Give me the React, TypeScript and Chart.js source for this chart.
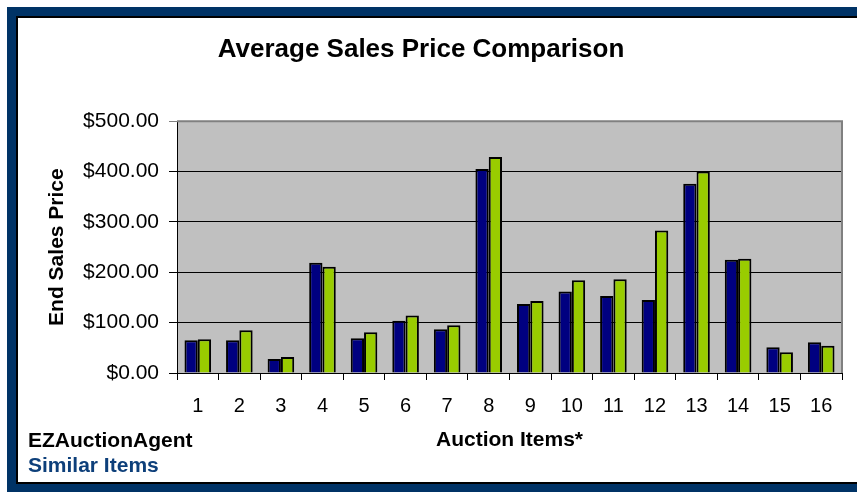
import React, { useEffect, useRef } from "react";
import { Chart, registerables } from "chart.js";

Chart.register(...registerables);

const categories = ["1", "2", "3", "4", "5", "6", "7", "8", "9", "10", "11", "12", "13", "14", "15", "16"];
const ezAuctionAgent = [65, 65, 28, 219, 69, 104, 87, 405, 137, 162, 153, 145, 376, 225, 51, 61];
const similarItems = [67, 85, 32, 211, 81, 114, 95, 429, 143, 184, 186, 283, 400, 227, 41, 54];
const seriesNames = ["EZAuctionAgent", "Similar Items"];
const titleText = "Average Sales Price Comparison";
const yTitle = "End Sales Price";
const xTitle = "Auction Items*";

const FONT = "'Liberation Sans', Arial, Helvetica, sans-serif";

export default function App() {
  const ref = useRef<HTMLCanvasElement | null>(null);

  useEffect(() => {
    document.body.style.overflow = "hidden";
    const canvas = ref.current;
    if (!canvas) return;

    const bgPlugin = {
      id: "plotBg",
      beforeDraw(chart: any) {
        const { ctx, chartArea: a } = chart;
        ctx.save();
        ctx.fillStyle = "#C0C0C0";
        ctx.fillRect(a.left, a.top, a.right - a.left, a.bottom - a.top);
        ctx.restore();
      },
      afterDatasetsDraw(chart: any) {
        const { ctx, chartArea: a } = chart;
        ctx.save();
        ctx.strokeStyle = "#808080";
        ctx.lineWidth = 2;
        ctx.beginPath();
        ctx.moveTo(a.left, a.top);
        ctx.lineTo(a.right, a.top);
        ctx.lineTo(a.right, a.bottom);
        ctx.stroke();
        ctx.restore();
      },
      afterDraw(chart: any) {
        const { ctx } = chart;
        ctx.save();
        ctx.font = `bold 21px ${FONT}`;
        ctx.textAlign = "left";
        ctx.textBaseline = "middle";
        ctx.fillStyle = "#000000";
        ctx.fillText(seriesNames[0], 28, 441);
        ctx.fillStyle = "#0D3F7A";
        ctx.fillText(seriesNames[1], 28, 466);
        ctx.restore();
      },
    };

    const chart = new Chart(canvas, {
      type: "bar",
      data: {
        labels: categories,
        datasets: [
          {
            label: seriesNames[0],
            data: ezAuctionAgent,
            backgroundColor: "#000080",
            borderColor: "#000000",
            borderWidth: 2,
            categoryPercentage: 0.64,
            barPercentage: 1.0,
          },
          {
            label: seriesNames[1],
            data: similarItems,
            backgroundColor: "#99CC00",
            borderColor: "#000000",
            borderWidth: 2,
            categoryPercentage: 0.64,
            barPercentage: 1.0,
          },
        ],
      },
      options: {
        responsive: false,
        animation: false,
        devicePixelRatio: 1,
        layout: { padding: { left: 0, right: 15, top: 0, bottom: 0 } },
        plugins: {
          legend: { display: false },
          tooltip: { enabled: false },
          title: {
            display: true,
            text: titleText,
            color: "#000000",
            font: { family: FONT, size: 26, weight: "bold", lineHeight: 1.2 },
            padding: { top: 34, bottom: 56 },
          },
        },
        scales: {
          x: {
            afterFit: (s: any) => {
              s.height = 119;
            },
            grid: {
              offset: true,
              drawOnChartArea: false,
              drawTicks: true,
              tickLength: 7,
              color: "#000000",
              lineWidth: 1,
            },
            border: { color: "#000000", width: 1 },
            ticks: {
              color: "#000000",
              font: { family: FONT, size: 20 },
              padding: 14,
              maxRotation: 0,
            },
            title: {
              display: true,
              text: xTitle,
              color: "#000000",
              font: { family: FONT, size: 21, weight: "bold", lineHeight: 1.2 },
              padding: { top: 0, bottom: 39 },
            },
          },
          y: {
            min: 0,
            max: 500,
            afterFit: (s: any) => {
              s.width = 177;
            },
            grid: {
              color: (c: any) => (c.tick && c.tick.value === 500 ? "#808080" : "#000000"),
              lineWidth: 1,
              drawTicks: true,
              tickLength: 8,
            },
            border: { color: "#000000", width: 1 },
            ticks: {
              stepSize: 100,
              color: "#000000",
              font: { family: FONT, size: 21 },
              padding: 10,
              callback: (v: any) => "$" + Number(v).toFixed(2),
            },
            title: {
              display: true,
              text: yTitle,
              color: "#000000",
              font: { family: FONT, size: 21, weight: "bold", lineHeight: 1.2 },
              padding: { top: 45, bottom: 0 },
            },
          },
        },
      },
      plugins: [bgPlugin],
    });

    return () => chart.destroy();
  }, []);

  return (
    <div>
      <div
        style={{
          position: "fixed",
          left: 7,
          top: 7,
          width: 900,
          height: 600,
          background: "#003366",
        }}
      />
      <div
        style={{
          position: "fixed",
          left: 16,
          top: 16,
          width: 900,
          height: 464,
          background: "#FFFFFF",
          border: "2px solid #000000",
          boxSizing: "content-box",
        }}
      />
      <canvas
        ref={ref}
        width={857}
        height={492}
        style={{ position: "fixed", left: 0, top: 0, width: 857, height: 492 }}
      />
    </div>
  );
}
